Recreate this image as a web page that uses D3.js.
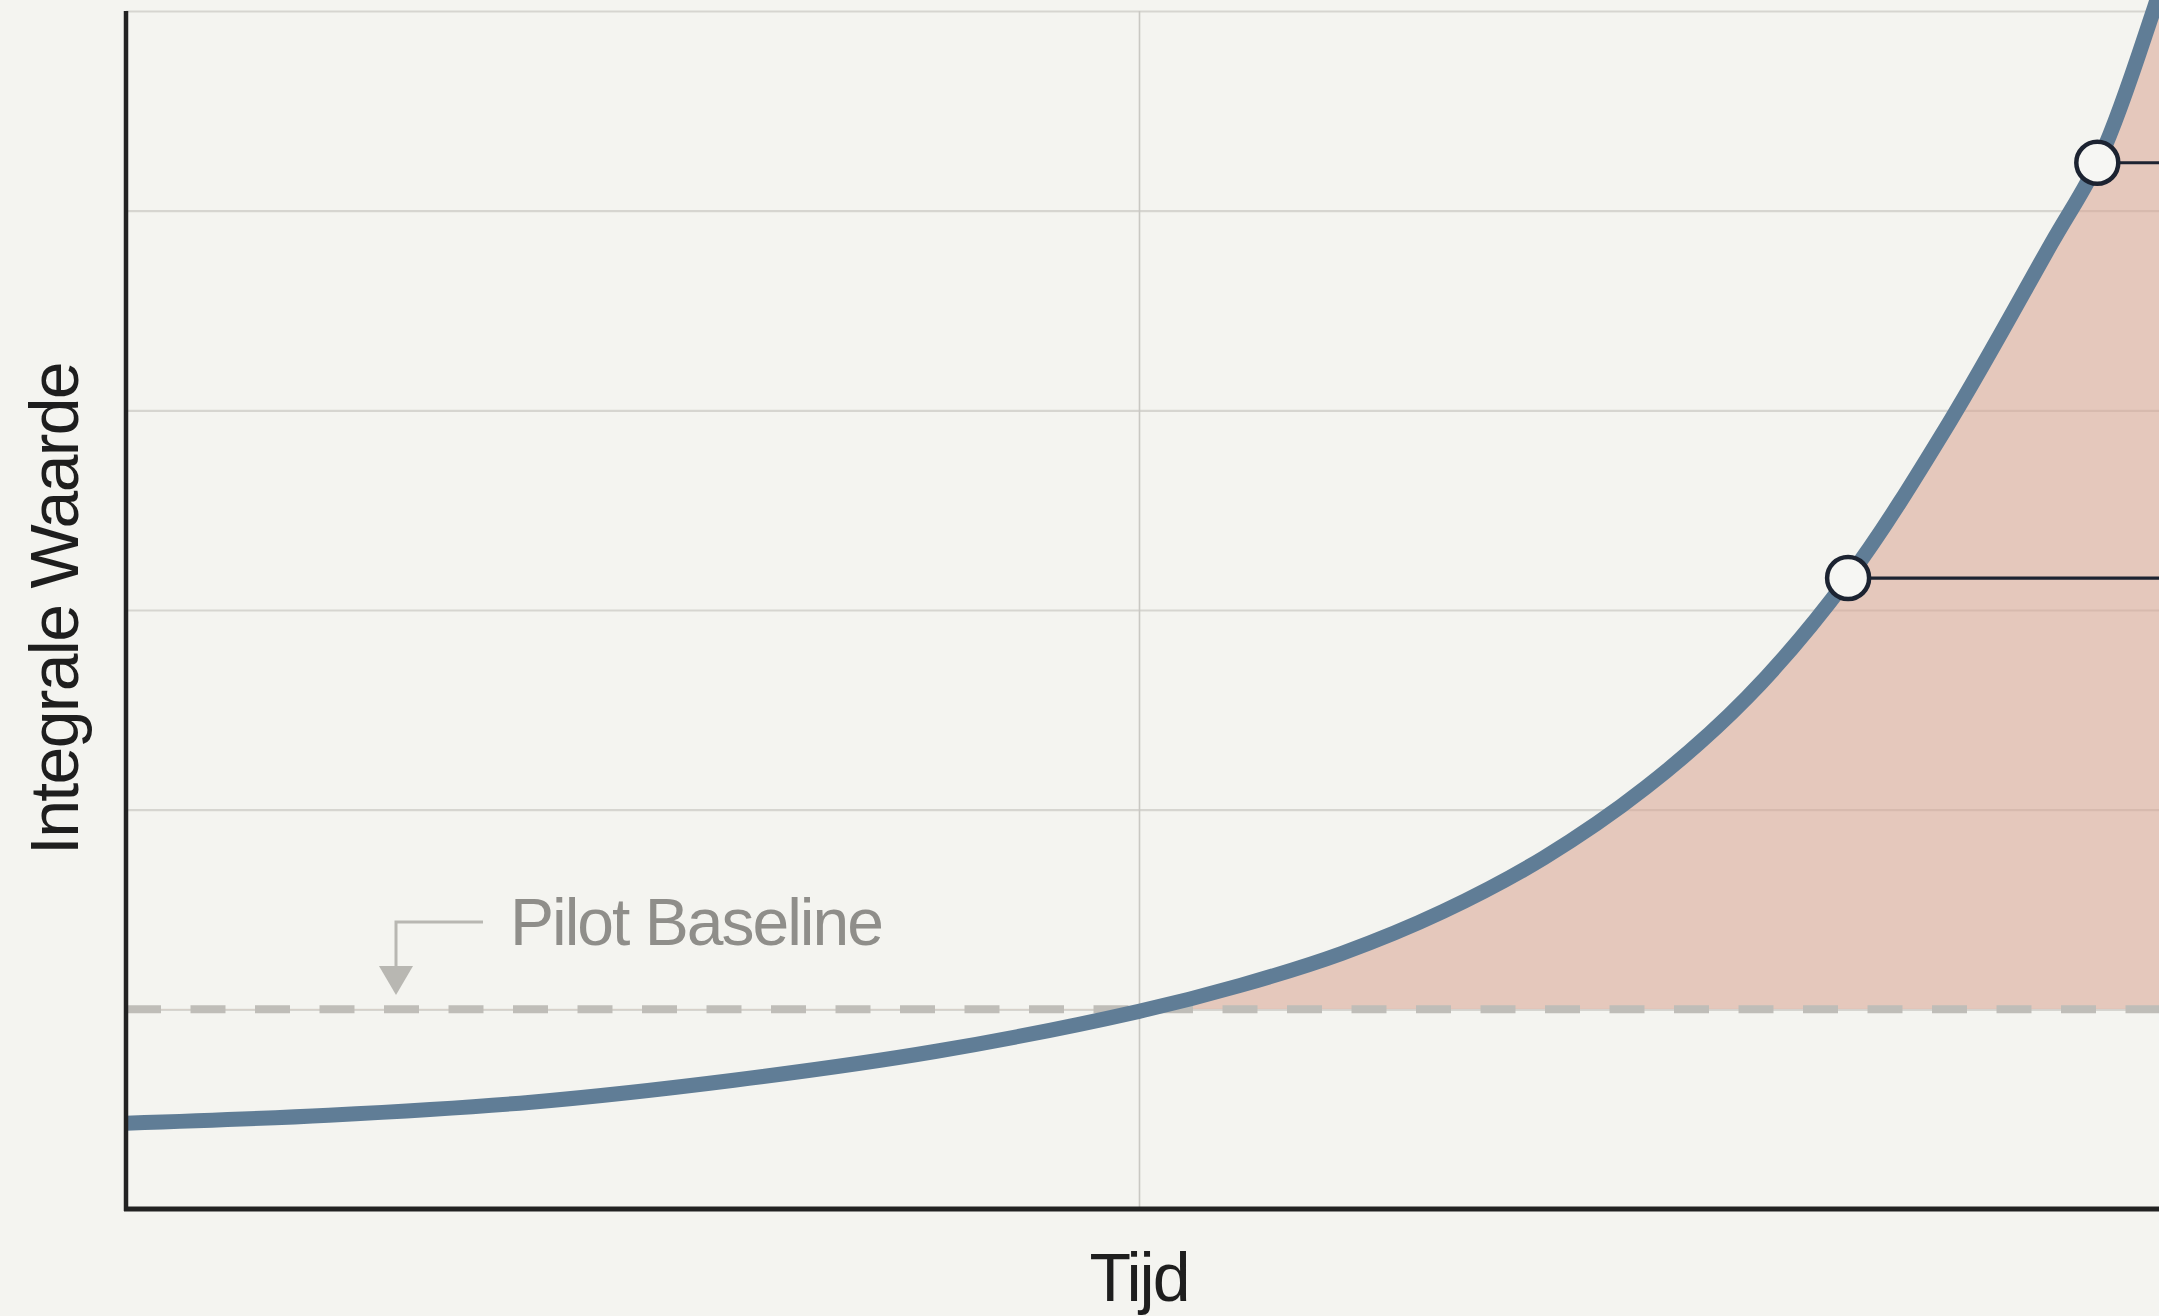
<!DOCTYPE html>
<html>
<head>
<meta charset="utf-8">
<script src="https://cdn.jsdelivr.net/npm/d3@7"></script>
<style>
  html, body { margin: 0; padding: 0; background: #f4f4f0; }
  svg { display: block; }
  text { font-family: "Liberation Sans", Arial, sans-serif; }
</style>
</head>
<body>
<svg id="chart" width="2159" height="1316"></svg>
<script>
// ---- data ----
const timeValues     = [0, 1, 2, 3, 4, 5, 5.5, 6, 6.5, 7, 7.5, 8, 8.5, 9, 9.5, 9.75, 10, 10.05];
const integralValues = [0.43, 0.47, 0.535, 0.645, 0.79, 0.99, 1.12, 1.28, 1.49, 1.76, 2.11, 2.56, 3.16, 3.94, 4.83, 5.28, 5.98, 6.14];
const baselineValue = 1;
const markerTimes  = [8.5, 9.73];
const markerValues = [3.16, 5.24];
const yGridValues = [1, 2, 3, 4, 5, 6];
const xGridValues = [5];
const xLabel = "Tijd";
const yLabel = "Integrale Waarde";
const baselineLabel = "Pilot Baseline";

(function () {
// ---- layout ----
const W = 2159, H = 1316;
const mLeft = 126, mRight = 2152, mTop = 11, mBottom = 1209;

const svg = d3.select("#chart");
const x = d3.scaleLinear().domain([0, 10]).range([mLeft, mRight]);
const y = d3.scaleLinear().domain([0, 6]).range([mBottom, mTop]);

const data = timeValues.map((t, i) => ({ t, v: integralValues[i] }));

svg.append("rect").attr("width", W).attr("height", H).attr("fill", "#f4f4f0");

// clip: region above baseline
const defs = svg.append("defs");
defs.append("clipPath").attr("id", "aboveBase")
  .append("rect")
  .attr("x", mLeft).attr("y", -50)
  .attr("width", W - mLeft + 50).attr("height", y(baselineValue) + 50);

// gridlines (horizontal)
svg.append("g")
  .attr("transform", `translate(${mLeft},0)`)
  .call(d3.axisLeft(y).tickValues(yGridValues).tickSize(-(W - mLeft)).tickFormat(""))
  .call(g => g.select(".domain").remove())
  .call(g => g.selectAll(".tick line").attr("stroke", "#d6d5d0").attr("stroke-width", 2.2));

// gridlines (vertical)
svg.append("g")
  .attr("transform", `translate(0,${mTop})`)
  .call(d3.axisBottom(x).tickValues(xGridValues).tickSize(mBottom - mTop).tickFormat(""))
  .call(g => g.select(".domain").remove())
  .call(g => g.selectAll(".tick line").attr("stroke", "#c9c8c3").attr("stroke-width", 1.6));

const curve = d3.curveCatmullRom.alpha(0.5);

// filled area above baseline
const area = d3.area()
  .x(d => x(d.t))
  .y0(y(baselineValue))
  .y1(d => y(d.v))
  .curve(curve);

svg.append("path")
  .datum(data)
  .attr("d", area)
  .attr("clip-path", "url(#aboveBase)")
  .attr("fill", "#d8a492")
  .attr("fill-opacity", 0.55);

// baseline dashed line
svg.append("line")
  .attr("x1", mLeft).attr("x2", W)
  .attr("y1", y(baselineValue)).attr("y2", y(baselineValue))
  .attr("stroke", "#bfbdb8")
  .attr("stroke-width", 8)
  .attr("stroke-dasharray", "35,29.5");

// baseline annotation arrow
const ax = 396, ay = 922;
svg.append("path")
  .attr("d", `M${ax + 87},${ay} H${ax} V${ay + 46}`)
  .attr("fill", "none").attr("stroke", "#b8b7b2").attr("stroke-width", 3);
svg.append("path")
  .attr("d", `M${ax - 17},${ay + 44} L${ax + 17},${ay + 44} L${ax},${ay + 73} Z`)
  .attr("fill", "#b8b7b2");

svg.append("text")
  .attr("x", 510).attr("y", 945)
  .attr("font-size", 66)
  .attr("letter-spacing", -2.0)
  .attr("fill", "#8f8e8a")
  .text(baselineLabel);

// main curve
const line = d3.line().x(d => x(d.t)).y(d => y(d.v)).curve(curve);
svg.append("path")
  .datum(data)
  .attr("d", line)
  .attr("fill", "none")
  .attr("stroke", "#607d96")
  .attr("stroke-width", 15);

// markers with leader lines
const markers = markerTimes.map((t, i) => ({ t, v: markerValues[i] }));
svg.selectAll(".leader").data(markers).enter().append("line")
  .attr("x1", d => x(d.t) + 21).attr("x2", W)
  .attr("y1", d => y(d.v)).attr("y2", d => y(d.v))
  .attr("stroke", "#1c2331").attr("stroke-width", 3.2);
svg.selectAll(".mk").data(markers).enter().append("circle")
  .attr("cx", d => x(d.t)).attr("cy", d => y(d.v))
  .attr("r", 21)
  .attr("fill", "#f6f6f3")
  .attr("stroke", "#1c2331").attr("stroke-width", 4.5);

// axes lines
svg.append("line").attr("x1", mLeft).attr("x2", mLeft).attr("y1", mTop).attr("y2", mBottom + 2)
  .attr("stroke", "#222").attr("stroke-width", 4.5);
svg.append("line").attr("x1", mLeft - 2).attr("x2", W).attr("y1", mBottom).attr("y2", mBottom)
  .attr("stroke", "#222").attr("stroke-width", 5);

// axis labels
svg.append("text")
  .attr("x", x(5)).attr("y", 1301)
  .attr("text-anchor", "middle")
  .attr("font-size", 68)
  .attr("letter-spacing", -2)
  .attr("fill", "#1e1e1e")
  .text(xLabel);

svg.append("text")
  .attr("transform", `translate(78,609) rotate(-90)`)
  .attr("text-anchor", "middle")
  .attr("font-size", 68)
  .attr("letter-spacing", -1.7)
  .attr("fill", "#1e1e1e")
  .text(yLabel);
})();
</script>
</body>
</html>
